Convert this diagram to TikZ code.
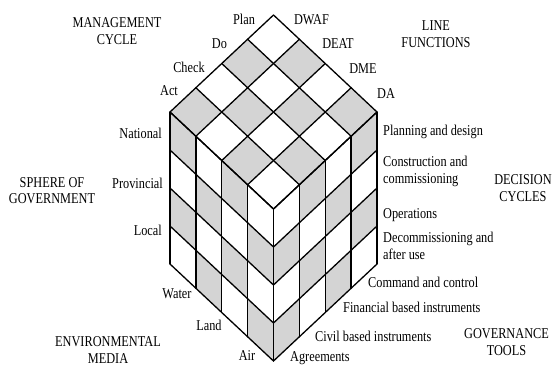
\documentclass[tikz,border=0pt]{standalone}
\usepackage{fontspec}
\setmainfont{Liberation Serif}[FakeStretch=0.82]
\definecolor{cubegray}{RGB}{212,212,212}
\begin{document}
\begin{tikzpicture}[x=1pt,y=-1pt,
  gridline/.style={line width=1.3pt, line join=round, line cap=round},
  lab/.style={font=\fontsize{15}{16.7}\selectfont, inner sep=0pt}]
\useasboundingbox (0,0) rectangle (555,370);
% ---- fills: top face (gray when a+b odd)
\foreach \a in {0,...,3}{\foreach \b in {0,...,3}{
  \pgfmathtruncatemacro\p{mod(\a+\b,2)}
  \ifnum\p=1
  \fill[cubegray] ({273.5+25.875*(\b-\a)},{15+24.25*(\a+\b)})
    -- ({273.5+25.875*(\b-\a-1)},{15+24.25*(\a+\b+1)})
    -- ({273.5+25.875*(\b-\a)},{15+24.25*(\a+\b+2)})
    -- ({273.5+25.875*(\b-\a+1)},{15+24.25*(\a+\b+1)}) -- cycle;
  \fi}}
% ---- left face (gray when c+d even)
\foreach \c in {0,...,3}{\foreach \d in {0,...,3}{
  \pgfmathtruncatemacro\p{mod(\c+\d,2)}
  \ifnum\p=0
  \fill[cubegray] ({170+25.875*\c},{112+24.25*\c+38*\d})
    -- ({170+25.875*(\c+1)},{112+24.25*(\c+1)+38*\d})
    -- ({170+25.875*(\c+1)},{112+24.25*(\c+1)+38*(\d+1)})
    -- ({170+25.875*\c},{112+24.25*\c+38*(\d+1)}) -- cycle;
  \fi}}
% ---- right face (gray when e+f odd)
\foreach \e in {0,...,3}{\foreach \f in {0,...,3}{
  \pgfmathtruncatemacro\p{mod(\e+\f,2)}
  \ifnum\p=1
  \fill[cubegray] ({273.5+25.875*\e},{209-24.25*\e+38*\f})
    -- ({273.5+25.875*(\e+1)},{209-24.25*(\e+1)+38*\f})
    -- ({273.5+25.875*(\e+1)},{209-24.25*(\e+1)+38*(\f+1)})
    -- ({273.5+25.875*\e},{209-24.25*\e+38*(\f+1)}) -- cycle;
  \fi}}
% ---- grid lines
\foreach \k in {0,...,4}{
  \draw[gridline] ({273.5-25.875*\k},{15+24.25*\k}) -- ({273.5-25.875*\k+103.5},{15+24.25*\k+97});
  \draw[gridline] ({273.5+25.875*\k},{15+24.25*\k}) -- ({273.5+25.875*\k-103.5},{15+24.25*\k+97});
  \draw[gridline] ({170+25.875*\k},{112+24.25*\k}) -- ({170+25.875*\k},{112+24.25*\k+152});
  \draw[gridline] (170,{112+38*\k}) -- (273.5,{209+38*\k});
  \draw[gridline] ({273.5+25.875*\k},{209-24.25*\k}) -- ({273.5+25.875*\k},{209-24.25*\k+152});
  \draw[gridline] (273.5,{209+38*\k}) -- (377,{112+38*\k});
}
% ---- titles
\node[lab,anchor=base] (mc1) at (117,27) {MANAGEMENT};
\node[lab,anchor=base] (mc2) at (117,44) {CYCLE};
\node[lab,anchor=base] (lf1) at (436,30) {LINE};
\node[lab,anchor=base] (lf2) at (436,47) {FUNCTIONS};
\node[lab,anchor=base] (sg1) at (52,187) {SPHERE OF};
\node[lab,anchor=base] (sg2) at (52,203) {GOVERNMENT};
\node[lab,anchor=base] (dc1) at (523,184) {DECISION};
\node[lab,anchor=base] (dc2) at (523,201) {CYCLES};
\node[lab,anchor=base] (em1) at (108,346) {ENVIRONMENTAL};
\node[lab,anchor=base] (em2) at (108,363) {MEDIA};
\node[lab,anchor=base] (gt1) at (506.5,338) {GOVERNANCE};
\node[lab,anchor=base] (gt2) at (506.5,355) {TOOLS};
% ---- management cycle
\node[lab,anchor=base] (plan) at (244,24) {Plan};
\node[lab,anchor=base] (do) at (219.5,48) {Do};
\node[lab,anchor=base] (check) at (189,72) {Check};
\node[lab,anchor=base] (act) at (169,95) {Act};
% ---- line functions
\node[lab,anchor=base] (dwaf) at (311.5,24) {DWAF};
\node[lab,anchor=base] (deat) at (338,48.5) {DEAT};
\node[lab,anchor=base] (dme) at (363,73) {DME};
\node[lab,anchor=base] (da) at (386,98) {DA};
% ---- sphere of government
\node[lab,anchor=base east] (nat) at (162,138) {National};
\node[lab,anchor=base east] (prov) at (163,188) {Provincial};
\node[lab,anchor=base east] (loc) at (162,235) {Local};
% ---- decision cycles
\node[lab,anchor=base west] (pd) at (383,135) {Planning and design};
\node[lab,anchor=base west] (cc1) at (383,166.5) {Construction and};
\node[lab,anchor=base west] (cc2) at (383,183) {commissioning};
\node[lab,anchor=base west] (op) at (383,218) {Operations};
\node[lab,anchor=base west] (dec1) at (383,242) {Decommissioning and};
\node[lab,anchor=base west] (dec2) at (383,259) {after use};
% ---- governance tools
\node[lab,anchor=base west] (cmd) at (368,287) {Command and control};
\node[lab,anchor=base west] (fin) at (343,312) {Financial based instruments};
\node[lab,anchor=base west] (civ) at (315,341) {Civil based instruments};
\node[lab,anchor=base west] (agr) at (290,361) {Agreements};
% ---- environmental media
\node[lab,anchor=base] (water) at (177,298) {Water};
\node[lab,anchor=base] (land) at (209,330) {Land};
\node[lab,anchor=base] (air) at (247,360) {Air};
\end{tikzpicture}
\end{document}
